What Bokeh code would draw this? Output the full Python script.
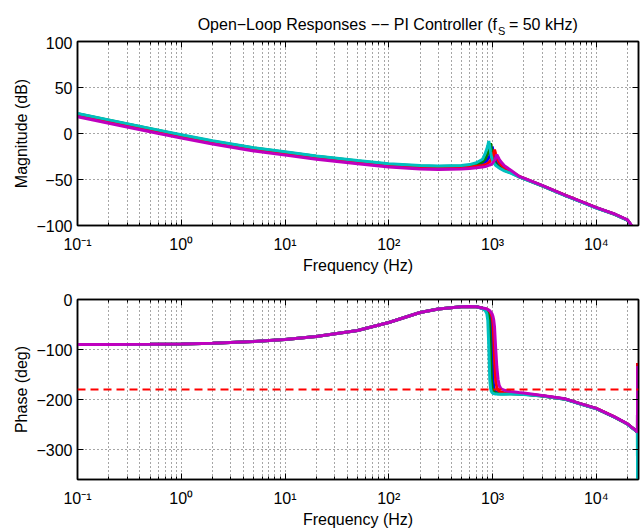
import numpy as np
from bokeh.plotting import figure
from bokeh.models import (FixedTicker, LogAxis, LinearAxis, Label, Range1d, Span,
                          CustomJSTickFormatter)
from bokeh.layouts import column
from bokeh.embed import file_html
from bokeh.resources import INLINE

# ---------------- data ----------------
freq_hz = [0.1, 0.2, 0.5, 1, 2, 5, 10, 20, 50, 100,
           200, 300, 500, 600, 700, 800, 850, 880, 900, 920,
           940, 957, 975, 993, 1010, 1025, 1045, 1070, 1100, 1130,
           1160, 1200, 1300, 1500, 1800, 2000, 3000, 5000, 7000, 10000,
           15000, 20000, 22000, 24000, 24900, 25000]

mag_blue = [20.8, 13.8, 4.6, -2.4, -8.9, -16.4, -20.9, -25.4, -30.4, -33.9,
            -35.9, -36.4, -35.9, -35.2, -34.2, -32.5, -31.0, -29.5, -28.0, -26.0,
            -24.0, -21.5, -18.5, -14.2, -19.0, -23.0, -27.0, -30.0, -32.3, -34.0,
            -35.5, -36.8, -39.3, -42.2, -46.8, -48.8, -56.7, -67.2, -73.7, -80.7,
            -87.7, -94.2, -100.7, -112.0, -140.0, -160.0]
mag_green = [21.4, 14.4, 5.2, -1.8, -8.3, -15.8, -20.3, -24.8, -29.8, -33.3,
             -35.3, -35.8, -35.3, -34.5, -33.3, -30.8, -27.5, -24.0, -21.5, -19.0,
             -15.0, -10.6, -16.5, -22.0, -25.5, -28.0, -30.5, -32.5, -34.2, -35.6,
             -36.6, -37.6, -40.0, -42.6, -47.0, -49.0, -56.8, -67.3, -73.8, -80.8,
             -87.8, -94.3, -100.8, -112.0, -140.0, -160.0]
mag_red = [19.5, 12.5, 3.3, -3.7, -10.2, -17.7, -22.2, -26.7, -31.7, -35.2,
           -37.2, -37.7, -37.2, -36.7, -35.7, -34.7, -34.0, -33.3, -32.5, -31.5,
           -30.5, -29.3, -27.8, -25.8, -24.0, -21.5, -17.5, -22.0, -26.0, -29.0,
           -31.5, -33.5, -37.0, -41.0, -46.6, -48.6, -56.6, -67.1, -73.6, -80.6,
           -87.6, -94.1, -100.6, -112.0, -140.0, -160.0]
mag_cyan = [21.8, 14.8, 5.6, -1.4, -7.9, -15.4, -19.9, -24.4, -29.4, -32.9,
            -34.9, -35.4, -34.8, -33.8, -31.8, -28.0, -21.5, -17.0, -13.0, -8.3,
            -14.0, -20.0, -25.0, -28.0, -30.0, -31.5, -33.0, -34.5, -35.6, -36.6,
            -37.5, -38.5, -40.6, -43.1, -47.2, -49.2, -57.0, -67.5, -74.0, -81.0,
            -88.0, -94.5, -101.0, -112.0, -140.0, -160.0]
mag_magenta = [18.2, 11.2, 2.0, -5.0, -11.5, -19.0, -23.5, -28.0, -33.0, -36.5,
               -38.5, -39.0, -38.5, -38.0, -37.2, -36.5, -36.0, -35.5, -35.0, -34.6,
               -34.2, -34.0, -33.5, -32.5, -31.5, -30.5, -29.0, -26.5, -23.0, -25.5,
               -28.0, -30.5, -35.0, -40.0, -46.5, -48.5, -56.5, -67.0, -73.5, -80.5,
               -87.5, -94.0, -100.5, -112.0, -140.0, -160.0]

phase_blue = [-90.0, -90.0, -89.5, -89.0, -87.5, -84.0, -80.0, -74.0, -62.0, -46.0,
              -26.0, -19.0, -14.5, -14.0, -14.5, -17.5, -19.0, -20.5, -22.0, -25.0,
              -30.0, -40.0, -70.0, -120.0, -158.0, -174.0, -181.0, -184.5, -186.0, -187.0,
              -187.5, -187.5, -188.0, -188.0, -188.5, -189.0, -192.6, -199.1, -208.6, -218.1,
              -235.1, -249.1, -256.1, -262.1, -266.1, -127.0]
phase_green = [-90.0, -90.0, -89.5, -89.0, -87.5, -84.0, -80.0, -74.0, -62.0, -46.0,
               -26.0, -19.0, -14.5, -14.0, -14.5, -17.5, -19.5, -22.0, -25.0, -32.0,
               -60.0, -110.0, -160.0, -176.0, -182.0, -184.5, -186.0, -187.0, -187.5, -188.0,
               -188.0, -188.5, -188.5, -188.5, -189.0, -189.5, -192.8, -199.3, -208.8, -218.3,
               -235.3, -249.3, -256.3, -262.3, -266.3, -460.0]
phase_red = [-90.0, -90.0, -89.5, -89.0, -87.5, -84.0, -80.0, -74.0, -62.0, -46.0,
             -26.0, -19.0, -14.5, -14.0, -14.5, -17.5, -18.5, -19.5, -20.5, -22.0,
             -24.0, -26.5, -30.0, -36.0, -48.0, -75.0, -120.0, -160.0, -176.0, -181.0,
             -183.5, -185.0, -186.5, -187.0, -188.0, -188.5, -192.3, -198.9, -208.4, -217.9,
             -234.9, -248.9, -255.9, -261.9, -265.9, -127.0]
phase_cyan = [-90.0, -90.0, -89.5, -89.0, -87.5, -84.0, -80.0, -74.0, -62.0, -46.0,
              -26.0, -19.0, -14.5, -14.0, -14.5, -18.0, -22.0, -28.0, -42.0, -95.0,
              -160.0, -178.0, -184.0, -186.5, -187.5, -188.0, -188.5, -189.0, -189.0, -189.5,
              -189.5, -189.5, -189.5, -189.0, -189.5, -190.0, -193.0, -199.5, -209.0, -218.5,
              -235.5, -249.5, -256.5, -262.5, -266.5, -460.0]
phase_magenta = [-90.0, -90.0, -89.5, -89.0, -87.5, -84.0, -80.0, -74.0, -62.0, -46.0,
                 -26.0, -19.0, -14.5, -14.0, -14.5, -17.0, -18.0, -19.0, -20.0, -21.0,
                 -22.5, -24.0, -26.5, -29.5, -34.0, -40.0, -55.0, -95.0, -135.0, -160.0,
                 -172.0, -178.0, -181.5, -184.0, -186.0, -187.0, -192.0, -198.7, -208.2, -217.7,
                 -234.7, -248.7, -255.7, -261.7, -265.7, -133.0]

series_colors = ["#0000FF", "#008000", "#FF0000", "#00BFBF", "#BF00BF"]
mag_series = [mag_blue, mag_green, mag_red, mag_cyan, mag_magenta]
phase_series = [phase_blue, phase_green, phase_red, phase_cyan, phase_magenta]

x_tick_values = [0.1, 1, 10, 100, 1000, 10000]
x_tick_labels = ["10\u207b\u00b9", "10\u2070", "10\u00b9", "10\u00b2", "10\u00b3", "10\u2074"]
x_minor_ticks = [m * d for d in [0.1, 1, 10, 100, 1000, 10000] for m in range(2, 10)]
mag_tick_values = [-100, -50, 0, 50, 100]
mag_tick_labels = ["\u2212100", "\u221250", "0", "50", "100"]
phase_tick_values = [-300, -200, -100, 0]
phase_tick_labels = ["\u2212300", "\u2212200", "\u2212100", "0"]
phase_ref_deg = -180
freq_range = (0.1, 25500)
mag_range = (-100, 100)
phase_range = (-360, 0)

title_main = "Open\u2212Loop Responses \u2212\u2212 PI Controller (f"
title_sub = "S"
title_tail = " = 50 kHz)"
x_label = "Frequency (Hz)"
mag_label = "Magnitude (dB)"
phase_label = "Phase (deg)"

FONT = "Liberation Sans"
FS = "16px"
W = 644
LEFT = 77
RIGHT = 6
TITLE_H = 36


def x_formatter():
    return CustomJSTickFormatter(args=dict(vals=x_tick_values, labs=x_tick_labels), code="""
        let best = 0, bd = Infinity;
        for (let i = 0; i < vals.length; i++) {
            const d = Math.abs(Math.log10(tick) - Math.log10(vals[i]));
            if (d < bd) { bd = d; best = i; }
        }
        return labs[best];
    """)


def y_formatter(vals, labs):
    return CustomJSTickFormatter(args=dict(vals=vals, labs=labs), code="""
        let best = 0, bd = Infinity;
        for (let i = 0; i < vals.length; i++) {
            const d = Math.abs(tick - vals[i]);
            if (d < bd) { bd = d; best = i; }
        }
        return labs[best];
    """)


def blank_formatter():
    return CustomJSTickFormatter(code="return ' ';")


def make_fig(yrange, yticks, ylabels, ylabel, height, b_top, b_bottom):
    p = figure(x_axis_type="log",
               x_range=Range1d(*freq_range), y_range=Range1d(*yrange),
               width=W, height=height,
               min_border_left=LEFT, min_border_right=RIGHT,
               min_border_top=b_top, min_border_bottom=b_bottom,
               output_backend="svg", toolbar_location=None)
    p.background_fill_color = "white"
    p.border_fill_color = "white"
    p.outline_line_color = "black"
    p.outline_line_width = 1.5

    xt = FixedTicker(ticks=x_tick_values, minor_ticks=x_minor_ticks)
    yt = FixedTicker(ticks=yticks)

    xa = p.xaxis[0]
    xa.ticker = xt
    xa.formatter = x_formatter()
    xa.axis_label = x_label
    ya = p.yaxis[0]
    ya.ticker = yt
    ya.formatter = y_formatter(yticks, ylabels)
    ya.axis_label = ylabel

    for ax in (xa, ya):
        ax.axis_label_text_font = FONT
        ax.axis_label_text_font_size = FS
        ax.axis_label_text_font_style = "normal"
        ax.axis_label_text_color = "black"
        ax.major_label_text_font = FONT
        ax.major_label_text_font_size = FS
        ax.major_label_text_color = "black"
        ax.axis_line_color = "black"
        ax.axis_line_width = 1.5
        ax.major_tick_line_color = "black"
        ax.minor_tick_line_color = "black"
        ax.major_tick_in = 6
        ax.major_tick_out = 0
        ax.minor_tick_in = 3
        ax.minor_tick_out = 0
    xa.major_label_standoff = 10
    xa.axis_label_standoff = 1
    ya.major_label_standoff = 5
    ya.axis_label_standoff = 3

    top_ax = LogAxis(ticker=xt, formatter=blank_formatter(),
                     major_label_text_font_size="1px", major_label_standoff=0,
                     major_tick_in=6, major_tick_out=0, minor_tick_in=3, minor_tick_out=0,
                     axis_line_color="black", axis_line_width=1.5)
    p.add_layout(top_ax, "above")
    right_ax = LinearAxis(ticker=yt, formatter=blank_formatter(),
                          major_label_text_font_size="1px", major_label_standoff=0,
                          major_tick_in=6, major_tick_out=0, minor_tick_in=0, minor_tick_out=0,
                          axis_line_color="black", axis_line_width=1.5)
    p.add_layout(right_ax, "right")

    p.xgrid.ticker = xt
    p.ygrid.ticker = yt
    for g in (p.xgrid, p.ygrid):
        g.grid_line_color = "black"
        g.grid_line_alpha = 0.7
        g.grid_line_dash = "1 3"
        g.grid_line_width = 1
    p.xgrid.minor_grid_line_color = "black"
    p.xgrid.minor_grid_line_alpha = 0.7
    p.xgrid.minor_grid_line_dash = "1 3"
    p.xgrid.minor_grid_line_width = 1
    return p


# ---------------- title strip ----------------
pt = figure(width=W, height=TITLE_H, x_range=Range1d(0, W), y_range=Range1d(0, TITLE_H),
            min_border=0, x_axis_location=None, y_axis_location=None,
            output_backend="svg", toolbar_location=None)
pt.grid.visible = False
pt.outline_line_color = None
pt.background_fill_color = "white"
pt.border_fill_color = "white"
title_cx = LEFT + (W - LEFT - RIGHT) / 2
title_base = TITLE_H - 23.5
pt.add_layout(Label(x=title_cx, y=title_base, x_offset=108, text=title_main,
                    text_align="right", text_baseline="alphabetic",
                    text_font=FONT, text_font_size=FS, text_color="black"))
pt.add_layout(Label(x=title_cx, y=title_base, x_offset=109, y_offset=-7, text=title_sub,
                    text_align="left", text_baseline="alphabetic",
                    text_font=FONT, text_font_size="11px", text_color="black"))
pt.add_layout(Label(x=title_cx, y=title_base, x_offset=120, text=title_tail,
                    text_align="left", text_baseline="alphabetic",
                    text_font=FONT, text_font_size=FS, text_color="black"))

# ---------------- magnitude ----------------
p1 = make_fig(mag_range, mag_tick_values, mag_tick_labels, mag_label, 240, 5, 50)
for ys, col in zip(mag_series, series_colors):
    p1.line(freq_hz, ys, line_color=col, line_width=3)

# ---------------- phase ----------------
p2 = make_fig(phase_range, phase_tick_values, phase_tick_labels, phase_label, 254, 23, 48)
for ys, col in zip(phase_series, series_colors):
    p2.line(freq_hz, ys, line_color=col, line_width=3)
p2.add_layout(Span(location=phase_ref_deg, dimension="width", line_color="#FF0000",
                   line_width=2, line_dash="8 5"))

layout = column(pt, p1, p2)
open("out.html", "w").write(file_html(layout, INLINE))
